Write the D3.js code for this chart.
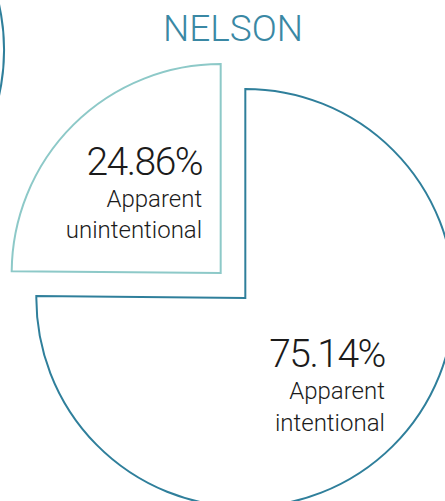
<!DOCTYPE html>
<html>
<head>
<meta charset="utf-8">
<script src="https://cdn.jsdelivr.net/npm/d3@7"></script>
<style>
    html, body { margin: 0; padding: 0; background: #fff; }
    svg { display: block; font-family: Roboto, "Noto Sans", sans-serif; }
</style>
</head>
<body>
<div id="chart"></div>
<script>
// data
var title = "NELSON";
var categories = ["Apparent intentional", "Apparent unintentional"];
var values = [75.14, 24.86];
var labelLines = [["Apparent", "intentional"], ["Apparent", "unintentional"]];

window.onload = function () {
    var width = 445,
        height = 501,
        radius = 209,
        explode = 17.5,
        cx = 233,
        cy = 285.5;

    var colors = d3.scaleOrdinal()
        .domain(categories)
        .range(["#2f7f9b", "#8dc9c8"]);

    var svg = d3.select("#chart").append("svg")
        .attr("width", width)
        .attr("height", height);

    var pie = d3.pie().sort(null).value(function (d) { return d.value; });
    var arc = d3.arc().innerRadius(0).outerRadius(radius);

    var data = categories.map(function (c, i) {
        return { name: c, value: values[i], lines: labelLines[i] };
    });
    var arcs = pie(data);

    // bits of the neighbouring pies that peek in at the edges
    svg.append("path")
        .attr("transform", "translate(" + (-205) + ",50)")
        .attr("d", d3.arc().innerRadius(radius).outerRadius(radius)({ startAngle: 0, endAngle: Math.PI }))
        .attr("fill", "none")
        .attr("stroke", colors(categories[0]))
        .attr("stroke-width", 2);

    svg.append("text")
        .attr("x", cx)
        .attr("y", 41)
        .attr("text-anchor", "middle")
        .attr("fill", "#3a88a4")
        .style("font-size", "37px")
        .style("font-weight", 300)
        .text(title);

    // pull each slice out along its middle angle
    function offset(d) {
        var a = (d.startAngle + d.endAngle) / 2;
        return [cx + Math.sin(a) * explode, cy - Math.cos(a) * explode];
    }

    var slice = svg.selectAll("g.slice")
        .data(arcs)
        .enter().append("g")
        .attr("class", "slice")
        .attr("transform", function (d) { return "translate(" + offset(d) + ")"; });

    slice.append("path")
        .attr("d", arc)
        .attr("fill", "#fff")
        .attr("stroke", function (d) { return colors(d.data.name); })
        .attr("stroke-width", 2)
        .attr("stroke-linejoin", "miter");

    // label anchor: right edge / baseline of the percentage, relative to the centroid
    var labelShift = [[66, -5], [55, -24]];

    var label = slice.append("text")
        .attr("text-anchor", "end")
        .attr("fill", "#1b1b1b")
        .attr("transform", function (d, i) {
            var c = arc.centroid(d);
            return "translate(" + (c[0] + labelShift[i][0]) + "," + (c[1] + labelShift[i][1]) + ")";
        });

    label.append("tspan")
        .attr("x", 0)
        .attr("y", 0)
        .style("font-size", "39px")
        .style("font-weight", 300)
        .style("letter-spacing", "-1.5px")
        .text(function (d) { return d3.format(".2f")(d.data.value) + "%"; });

    label.selectAll("tspan.line")
        .data(function (d) { return d.data.lines; })
        .enter().append("tspan")
        .attr("class", "line")
        .attr("x", 0)
        .attr("y", function (d, i) { return 32 + i * 31.5; })
        .style("font-size", "24px")
        .style("font-weight", 300)
        .text(function (d) { return d; });
};
</script>
</body>
</html>
